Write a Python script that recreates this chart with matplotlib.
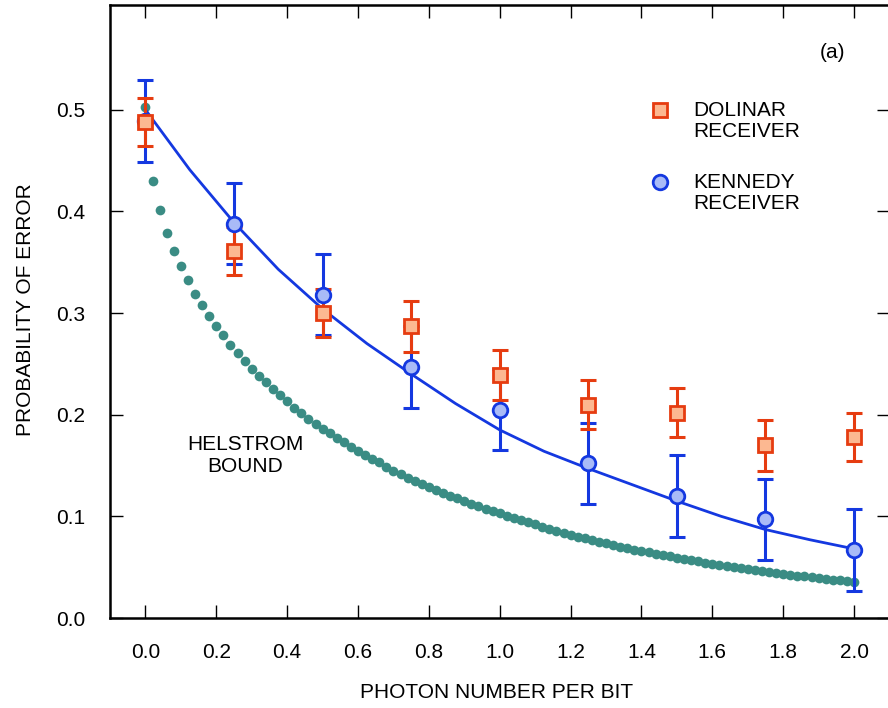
import matplotlib
matplotlib.use("Agg")
import matplotlib.pyplot as plt

plt.rcParams['font.family'] = ['Liberation Sans', 'DejaVu Sans']

# Helstrom bound
helstrom_n = [0.00, 0.02, 0.04, 0.06, 0.08, 0.10, 0.12, 0.14, 0.16, 0.18,
              0.20, 0.22, 0.24, 0.26, 0.28, 0.30, 0.32, 0.34, 0.36, 0.38,
              0.40, 0.42, 0.44, 0.46, 0.48, 0.50, 0.52, 0.54, 0.56, 0.58,
              0.60, 0.62, 0.64, 0.66, 0.68, 0.70, 0.72, 0.74, 0.76, 0.78,
              0.80, 0.82, 0.84, 0.86, 0.88, 0.90, 0.92, 0.94, 0.96, 0.98,
              1.00, 1.02, 1.04, 1.06, 1.08, 1.10, 1.12, 1.14, 1.16, 1.18,
              1.20, 1.22, 1.24, 1.26, 1.28, 1.30, 1.32, 1.34, 1.36, 1.38,
              1.40, 1.42, 1.44, 1.46, 1.48, 1.50, 1.52, 1.54, 1.56, 1.58,
              1.60, 1.62, 1.64, 1.66, 1.68, 1.70, 1.72, 1.74, 1.76, 1.78,
              1.80, 1.82, 1.84, 1.86, 1.88, 1.90, 1.92, 1.94, 1.96, 1.98,
              2.00]
helstrom_p = [0.503, 0.430, 0.401, 0.379, 0.361, 0.346, 0.332, 0.319, 0.308, 0.297,
              0.287, 0.278, 0.269, 0.261, 0.253, 0.245, 0.238, 0.232, 0.225, 0.219,
              0.213, 0.207, 0.202, 0.196, 0.191, 0.186, 0.182, 0.177, 0.173, 0.168,
              0.164, 0.160, 0.156, 0.153, 0.149, 0.145, 0.142, 0.138, 0.135, 0.132,
              0.129, 0.126, 0.123, 0.120, 0.118, 0.115, 0.112, 0.110, 0.107, 0.105,
              0.103, 0.100, 0.098, 0.096, 0.094, 0.092, 0.090, 0.088, 0.086, 0.084,
              0.082, 0.080, 0.079, 0.077, 0.075, 0.074, 0.072, 0.070, 0.069, 0.067,
              0.066, 0.065, 0.063, 0.062, 0.061, 0.059, 0.058, 0.057, 0.056, 0.054,
              0.053, 0.052, 0.051, 0.050, 0.049, 0.048, 0.047, 0.046, 0.045, 0.044,
              0.043, 0.042, 0.041, 0.041, 0.040, 0.039, 0.038, 0.037, 0.037, 0.036,
              0.035]

# Kennedy theory line
kline_n = [0.0, 0.125, 0.25, 0.375, 0.5, 0.625, 0.75, 0.875, 1.0,
           1.125, 1.25, 1.375, 1.5, 1.625, 1.75, 1.875, 2.0]
kline_p = [0.500, 0.441, 0.389, 0.343, 0.304, 0.270, 0.240, 0.211, 0.185,
           0.164, 0.147, 0.131, 0.115, 0.100, 0.087, 0.077, 0.068]

# Measurements
meas_n = [0.0, 0.25, 0.5, 0.75, 1.0, 1.25, 1.5, 1.75, 2.0]
dolinar_p = [0.488, 0.361, 0.300, 0.287, 0.239, 0.210, 0.202, 0.170, 0.178]
dolinar_err = [0.024, 0.024, 0.024, 0.025, 0.025, 0.024, 0.024, 0.025, 0.024]
kennedy_p = [0.489, 0.388, 0.318, 0.247, 0.205, 0.152, 0.120, 0.097, 0.067]
kennedy_err = [0.040, 0.040, 0.040, 0.040, 0.040, 0.040, 0.040, 0.040, 0.040]

x_ticks = [0.0, 0.2, 0.4, 0.6, 0.8, 1.0, 1.2, 1.4, 1.6, 1.8, 2.0]
y_ticks = [0.0, 0.1, 0.2, 0.3, 0.4, 0.5]

ORANGE_E = '#e63c10'
ORANGE_F = '#fcb891'
BLUE_E = '#1438e0'
BLUE_F = '#a9bbf7'
TEAL = '#3a8c84'

W, H = 888, 708
fig = plt.figure(figsize=(W / 100, H / 100), dpi=100)
left, right, bottom, top = 110, 889.5, 618, 5
ax = fig.add_axes([left / W, (H - bottom) / H, (right - left) / W, (bottom - top) / H])

ax.plot(helstrom_n, helstrom_p, linestyle='none', marker='o', markersize=7.0,
        color=TEAL, markeredgewidth=0, zorder=1)
ax.plot(kline_n, kline_p, color=BLUE_E, linewidth=2.0, zorder=2)

ax.errorbar(meas_n, kennedy_p, yerr=kennedy_err, fmt='none', ecolor=BLUE_E,
            elinewidth=2.2, capsize=5.5, capthick=2.2, zorder=3)
ax.errorbar(meas_n, dolinar_p, yerr=dolinar_err, fmt='none', ecolor=ORANGE_E,
            elinewidth=2.2, capsize=5.5, capthick=2.2, zorder=4)
ax.plot(meas_n, kennedy_p, linestyle='none', marker='o', markersize=10.5,
        markerfacecolor=BLUE_F, markeredgecolor=BLUE_E, markeredgewidth=2.0, zorder=5)
ax.plot(meas_n, dolinar_p, linestyle='none', marker='s', markersize=9.5,
        markerfacecolor=ORANGE_F, markeredgecolor=ORANGE_E, markeredgewidth=2.0, zorder=6)

ax.set_xlim(-0.1, 2.1)
ax.set_ylim(0.0, 0.603)
ax.set_xticks(x_ticks)
ax.set_yticks(y_ticks)
ax.set_xticklabels([f'{v:.1f}' for v in x_ticks])
ax.set_yticklabels([f'{v:.1f}' for v in y_ticks])
ax.tick_params(direction='in', length=9.5, width=1.0, top=True, right=True,
               labelsize=15, pad=18, color='black')
for s in ax.spines.values():
    s.set_linewidth(1.8)

ax.set_xlabel('PHOTON NUMBER PER BIT', fontsize=15)
ax.set_ylabel('PROBABILITY OF ERROR', fontsize=15)
ax.xaxis.set_label_coords((497 - left) / (right - left), (bottom - 692) / (bottom - top))
ax.xaxis.label.set_verticalalignment('center')
ax.yaxis.set_label_coords((26 - left) / (right - left), (bottom - 310) / (bottom - top))
ax.yaxis.label.set_verticalalignment('center')

def fx(px):
    return (px - left) / (right - left)

def fy(py):
    return (bottom - py) / (bottom - top)

ax.text(fx(832), fy(53), '(a)', transform=ax.transAxes, fontsize=15,
        ha='center', va='center')
ax.text(fx(245), fy(455), 'HELSTROM\nBOUND', transform=ax.transAxes, fontsize=15,
        ha='center', va='center', linespacing=1.2)

# legend
ax.plot([fx(660)], [fy(110)], transform=ax.transAxes, marker='s', markersize=9.5,
        markerfacecolor=ORANGE_F, markeredgecolor=ORANGE_E, markeredgewidth=2.0,
        linestyle='none', clip_on=False)
ax.text(fx(693), fy(101), 'DOLINAR\nRECEIVER', transform=ax.transAxes, fontsize=15,
        ha='left', va='top', linespacing=1.15)
ax.plot([fx(660)], [fy(182)], transform=ax.transAxes, marker='o', markersize=10.5,
        markerfacecolor=BLUE_F, markeredgecolor=BLUE_E, markeredgewidth=2.0,
        linestyle='none', clip_on=False)
ax.text(fx(693), fy(173), 'KENNEDY\nRECEIVER', transform=ax.transAxes, fontsize=15,
        ha='left', va='top', linespacing=1.15)

fig.savefig('out.png', dpi=100)
